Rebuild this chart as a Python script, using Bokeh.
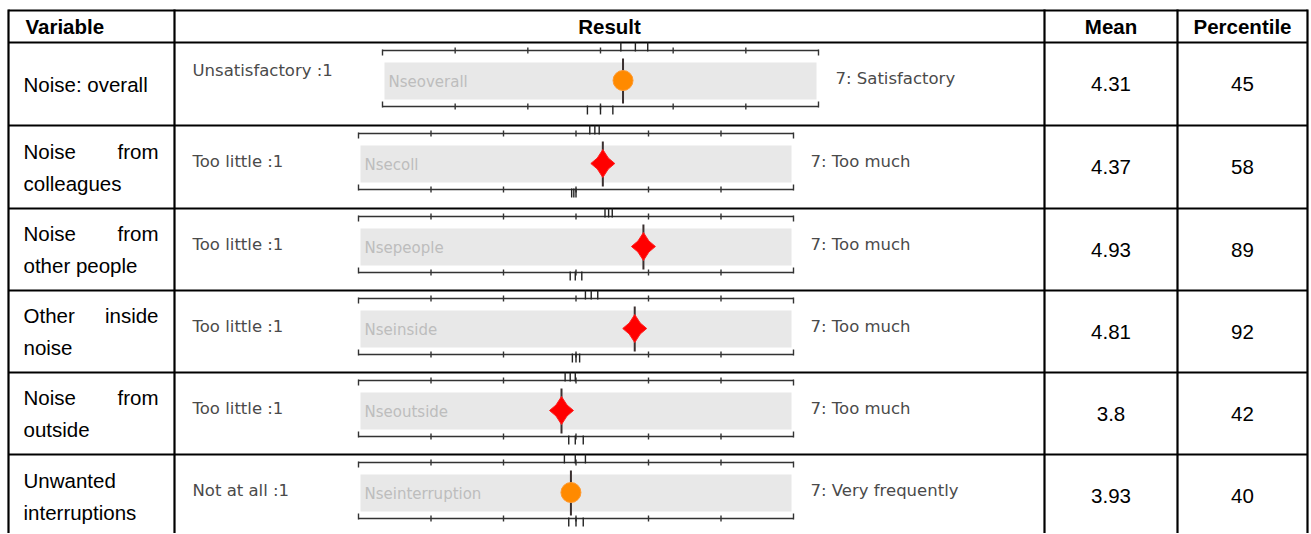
from bokeh.plotting import figure
from bokeh.models import Range1d
from bokeh.core.properties import value
from bokeh.embed import file_html
from bokeh.resources import INLINE

# ---------------- data ----------------
headers = ["Variable", "Result", "Mean", "Percentile"]
variable_lines = [
    ["Noise: overall"],
    ["Noise from", "colleagues"],
    ["Noise from", "other people"],
    ["Other inside", "noise"],
    ["Noise from", "outside"],
    ["Unwanted", "interruptions"],
]
means = [4.31, 4.37, 4.93, 4.81, 3.8, 3.93]
mean_labels = ["4.31", "4.37", "4.93", "4.81", "3.8", "3.93"]
percentiles = [45, 58, 89, 92, 42, 40]
low_labels = ["Unsatisfactory :1", "Too little :1", "Too little :1",
              "Too little :1", "Too little :1", "Not at all :1"]
high_labels = ["7: Satisfactory", "7: Too much", "7: Too much",
               "7: Too much", "7: Too much", "7: Very frequently"]
band_labels = ["Nseoverall", "Nsecoll", "Nsepeople", "Nseinside",
               "Nseoutside", "Nseinterruption"]
marker_kind = ["circle", "star", "star", "star", "star", "circle"]
scale_values = [1, 2, 3, 4, 5, 6, 7]
top_refs = [[4.28, 4.48, 4.65], [4.19, 4.26, 4.32], [4.40, 4.45, 4.50],
            [4.13, 4.21, 4.30], [3.85, 3.92, 3.99], [3.84, 3.99, 4.13]]
bottom_refs = [[3.82, 4.00, 4.17], [3.94, 3.97, 4.00], [3.92, 3.99, 4.08],
               [3.95, 4.00, 4.05], [3.90, 3.99, 4.10], [3.90, 4.00, 4.10]]

# ---------------- layout ----------------
W, H = 1310, 533
p = figure(width=W, height=H, x_range=Range1d(0, W), y_range=Range1d(H, 0),
           output_backend="svg", toolbar_location=None, min_border=0)
p.xaxis.visible = False
p.yaxis.visible = False
p.xgrid.visible = False
p.ygrid.visible = False
p.outline_line_color = None
p.background_fill_color = "white"
p.border_fill_color = "white"

col_x = [8, 174, 1044, 1177, 1307]
header_top, header_bot = 10, 42
row_tops = [42, 125, 208, 290, 372, 454]
row_bots = row_tops[1:] + [540]

TABLE_FONT = value("Liberation Sans")
TFS = value("20.5px")
RES_FONT = value("DejaVu Sans")

# table grid
hx0, hx1, hy0, hy1 = [], [], [], []
for y in [header_top, header_bot] + row_tops[1:]:
    hx0.append(col_x[0]); hx1.append(col_x[-1]); hy0.append(y); hy1.append(y)
p.segment(x0=hx0, x1=hx1, y0=hy0, y1=hy1, line_color="black", line_width=2.2)
p.segment(x0=col_x, x1=col_x, y0=[header_top - 1] * len(col_x), y1=[540] * len(col_x),
          line_color="black", line_width=2.2)

# header texts
hy = (header_top + header_bot) / 2
p.text(x=[25], y=[hy], text=[headers[0]], text_font=TABLE_FONT, text_font_size=TFS,
       text_font_style="bold", text_baseline="middle", text_align="left", text_color="black")
p.text(x=[(col_x[i] + col_x[i + 1]) / 2 for i in (1, 2, 3)], y=[hy] * 3, text=headers[1:],
       text_font=TABLE_FONT, text_font_size=TFS, text_font_style="bold",
       text_baseline="middle", text_align="center", text_color="black")

# variable column
lx, ly, lt, rx, ry, rt = [], [], [], [], [], []
for i, lines in enumerate(variable_lines):
    cy = (row_tops[i] + min(row_bots[i], 537)) / 2
    n = len(lines)
    for j, line in enumerate(lines):
        y = cy + (j - (n - 1) / 2) * 32
        words = line.split(" ")
        if n > 1 and j < n - 1 and len(words) > 1:
            lx.append(23); ly.append(y); lt.append(" ".join(words[:-1]))
            rx.append(158); ry.append(y); rt.append(words[-1])
        else:
            lx.append(23); ly.append(y); lt.append(line)
p.text(x=lx, y=ly, text=lt, text_font=TABLE_FONT, text_font_size=TFS,
       text_baseline="middle", text_align="left", text_color="black")
p.text(x=rx, y=ry, text=rt, text_font=TABLE_FONT, text_font_size=TFS,
       text_baseline="middle", text_align="right", text_color="black")

# mean / percentile columns
cys = [(row_tops[i] + min(row_bots[i], 537)) / 2 for i in range(6)]
p.text(x=[(col_x[2] + col_x[3]) / 2] * 6, y=cys, text=mean_labels, text_font=TABLE_FONT,
       text_font_size=TFS, text_baseline="middle", text_align="center", text_color="black")
p.text(x=[(col_x[3] + col_x[4]) / 2] * 6, y=cys, text=[str(v) for v in percentiles],
       text_font=TABLE_FONT, text_font_size=TFS, text_baseline="middle",
       text_align="center", text_color="black")

# result column scales
scale_left = [382, 358, 358, 358, 358, 358]
scale_right = [818, 793, 793, 793, 793, 793]

def sx(i, v):
    return scale_left[i] + (v - scale_values[0]) * (scale_right[i] - scale_left[i]) / (scale_values[-1] - scale_values[0])

band_l, band_r, band_t, band_b = [], [], [], []
ax0, ax1, ay0, ay1 = [], [], [], []
tk_x, tk_y0, tk_y1 = [], [], []
rf_x, rf_y0, rf_y1 = [], [], []
vl_x, vl_y0, vl_y1 = [], [], []
circ_x, circ_y = [], []
star_xs, star_ys = [], []
low_x, low_y, high_x, high_y, bt_x, bt_y = [], [], [], [], [], []

for i in range(6):
    t = row_tops[i]
    ytop, ybot = t + 8, t + 64
    band_l.append(sx(i, 1) + 2); band_r.append(sx(i, 7) - 2)
    band_t.append(t + 20); band_b.append(t + 57)
    for y in (ytop, ybot):
        ax0.append(sx(i, 1)); ax1.append(sx(i, 7)); ay0.append(y); ay1.append(y)
    for v in scale_values:
        x = sx(i, v)
        if v in (scale_values[0], scale_values[-1]):
            tk_x += [x, x]; tk_y0 += [ytop - 1, ybot + 1]; tk_y1 += [ytop + 5, ybot - 5]
        else:
            tk_x += [x, x]; tk_y0 += [ytop - 3, ybot - 3]; tk_y1 += [ytop + 3, ybot + 3]
    for v in top_refs[i]:
        rf_x.append(sx(i, v)); rf_y0.append(ytop - 8); rf_y1.append(ytop + 1)
    for v in bottom_refs[i]:
        rf_x.append(sx(i, v)); rf_y0.append(ybot - 1); rf_y1.append(ybot + 8)
    mx = sx(i, means[i]); my = t + 38
    vl_x.append(mx); vl_y0.append(t + 16); vl_y1.append(t + 61)
    if marker_kind[i] == "circle":
        circ_x.append(mx); circ_y.append(my)
    else:
        ox, oy, inn = 12, 14, 5.5
        star_xs.append([mx, mx + inn, mx + ox, mx + inn, mx, mx - inn, mx - ox, mx - inn])
        star_ys.append([my - oy, my - inn, my, my + inn, my + oy, my + inn, my, my - inn])
    low_x.append(192); low_y.append(t + (28 if i == 0 else 36))
    high_x.append(sx(i, 7) + 17); high_y.append(t + 36)
    bt_x.append(sx(i, 1) + 6); bt_y.append(t + 39)

p.quad(left=band_l, right=band_r, top=band_t, bottom=band_b, fill_color="#e8e8e8",
       line_color=None)
p.text(x=bt_x, y=bt_y, text=band_labels, text_font=RES_FONT, text_font_size=value("15px"),
       text_color="#bdbdbd", text_baseline="middle", text_align="left")
p.segment(x0=ax0, x1=ax1, y0=ay0, y1=ay1, line_color="#333333", line_width=1.6)
p.segment(x0=tk_x, x1=tk_x, y0=tk_y0, y1=tk_y1, line_color="#333333", line_width=1.4)
p.segment(x0=rf_x, x1=rf_x, y0=rf_y0, y1=rf_y1, line_color="#222222", line_width=1.4)
p.segment(x0=vl_x, x1=vl_x, y0=vl_y0, y1=vl_y1, line_color="#3a3030", line_width=2)
p.scatter(x=circ_x, y=circ_y, size=20, marker="circle", fill_color="#ff8a00",
          line_color="#ff9a30", line_width=1)
p.patches(xs=star_xs, ys=star_ys, fill_color="#ff0000", line_color="#ff2020", line_width=1)
p.text(x=low_x, y=low_y, text=low_labels, text_font=RES_FONT, text_font_size=value("16.5px"),
       text_color="#4a4a4a", text_baseline="middle", text_align="left")
p.text(x=high_x, y=high_y, text=high_labels, text_font=RES_FONT, text_font_size=value("16.5px"),
       text_color="#4a4a4a", text_baseline="middle", text_align="left")

open("out.html", "w").write(file_html(p, INLINE))
